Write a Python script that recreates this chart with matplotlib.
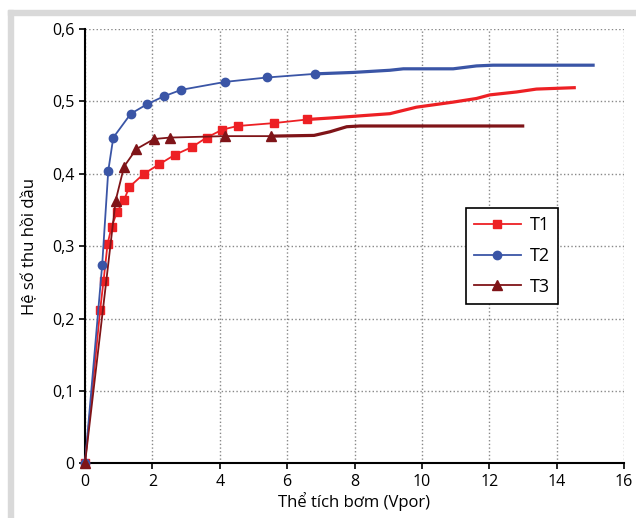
import matplotlib
matplotlib.use("Agg")
import matplotlib.pyplot as plt
from matplotlib.patches import Rectangle

plt.rcParams['font.family'] = ['Open Sans', 'DejaVu Sans']

# T1 - squares
t1_x = [0, 0.45, 0.55, 0.67, 0.79, 0.95, 1.16, 1.32, 1.75, 2.20, 2.66, 3.18, 3.61, 4.08, 4.53, 5.61, 6.60]
t1_y = [0, 0.212, 0.252, 0.303, 0.327, 0.347, 0.364, 0.382, 0.400, 0.413, 0.426, 0.437, 0.450, 0.461, 0.466, 0.470, 0.475]
t1_tail_x = [6.60, 7.27, 8.16, 9.05, 9.84, 10.93, 11.62, 12.02, 12.81, 13.40, 14.57]
t1_tail_y = [0.475, 0.477, 0.480, 0.483, 0.492, 0.499, 0.504, 0.509, 0.513, 0.517, 0.519]

# T2 - circles
t2_x = [0, 0.51, 0.69, 0.84, 1.36, 1.84, 2.34, 2.86, 4.17, 5.40, 6.82]
t2_y = [0, 0.274, 0.404, 0.450, 0.483, 0.496, 0.507, 0.516, 0.527, 0.533, 0.538]
t2_tail_x = [6.82, 7.96, 9.05, 9.45, 10.93, 11.62, 12.11, 15.13]
t2_tail_y = [0.538, 0.540, 0.543, 0.545, 0.545, 0.549, 0.550, 0.550]

# T3 - triangles
t3_x = [0, 0.91, 1.16, 1.52, 2.05, 2.52, 4.15, 5.51]
t3_y = [0, 0.363, 0.410, 0.434, 0.448, 0.450, 0.452, 0.452]
t3_tail_x = [5.51, 6.80, 7.27, 7.77, 8.16, 13.04]
t3_tail_y = [0.452, 0.453, 0.458, 0.465, 0.466, 0.466]

c1, c2, c3 = '#ED2024', '#3A55A6', '#7F1418'

fig = plt.figure(figsize=(6.36, 5.18), dpi=100)
W, H = 636, 518
# light frame along the top and left edges
fig.patches.append(Rectangle((8 / W, 0), 5 / W, 1 - 10 / H, transform=fig.transFigure,
                             color='#d9d9d9', zorder=0))
fig.patches.append(Rectangle((8 / W, 1 - 15 / H), 1 - 8 / W, 5 / H, transform=fig.transFigure,
                             color='#d9d9d9', zorder=0))

ax = fig.add_axes([85 / W, 1 - 463.3 / H, 539 / W, 434.3 / H])

ax.plot(t1_tail_x, t1_tail_y, color=c1, lw=2.3, solid_capstyle='butt')
ax.plot(t2_tail_x, t2_tail_y, color=c2, lw=2.3, solid_capstyle='butt')
ax.plot(t3_tail_x, t3_tail_y, color=c3, lw=2.3, solid_capstyle='butt')
ax.plot(t1_x, t1_y, color=c1, lw=1.3, marker='s', ms=6, label='T1', clip_on=False, zorder=4)
ax.plot(t2_x, t2_y, color=c2, lw=1.3, marker='o', ms=6, label='T2', clip_on=False, zorder=4)
ax.plot(t3_x, t3_y, color=c3, lw=1.3, marker='^', ms=7.5, label='T3', clip_on=False, zorder=4)

ax.set_xlim(0, 16)
ax.set_ylim(0, 0.6)
ax.set_xticks(range(0, 17, 2))
ax.set_yticks([0, 0.1, 0.2, 0.3, 0.4, 0.5, 0.6])
ax.set_yticklabels(['0', '0,1', '0,2', '0,3', '0,4', '0,5', '0,6'])
ax.tick_params(labelsize=11.5, length=4, width=1.2, color='black')
ax.grid(True, color='#888888', linestyle=':', linewidth=1)
for s in ['top', 'right']:
    ax.spines[s].set_visible(False)
for s in ['left', 'bottom']:
    ax.spines[s].set_linewidth(1.5)
ax.set_axisbelow(True)

ax.set_xlabel('Thể tích bơm (Vpor)', fontsize=12, labelpad=2)
ax.set_ylabel('Hệ số thu hồi dầu', fontsize=12, labelpad=10)

leg = ax.legend(loc='upper left', bbox_to_anchor=(0.706, 0.587), borderaxespad=0,
                fontsize=13, fancybox=False, framealpha=1, edgecolor='black',
                handlelength=2.6, labelspacing=0.7, handletextpad=0.5,
                borderpad=0.45)
leg.get_frame().set_linewidth(1.2)

fig.savefig('out.png', dpi=100)
